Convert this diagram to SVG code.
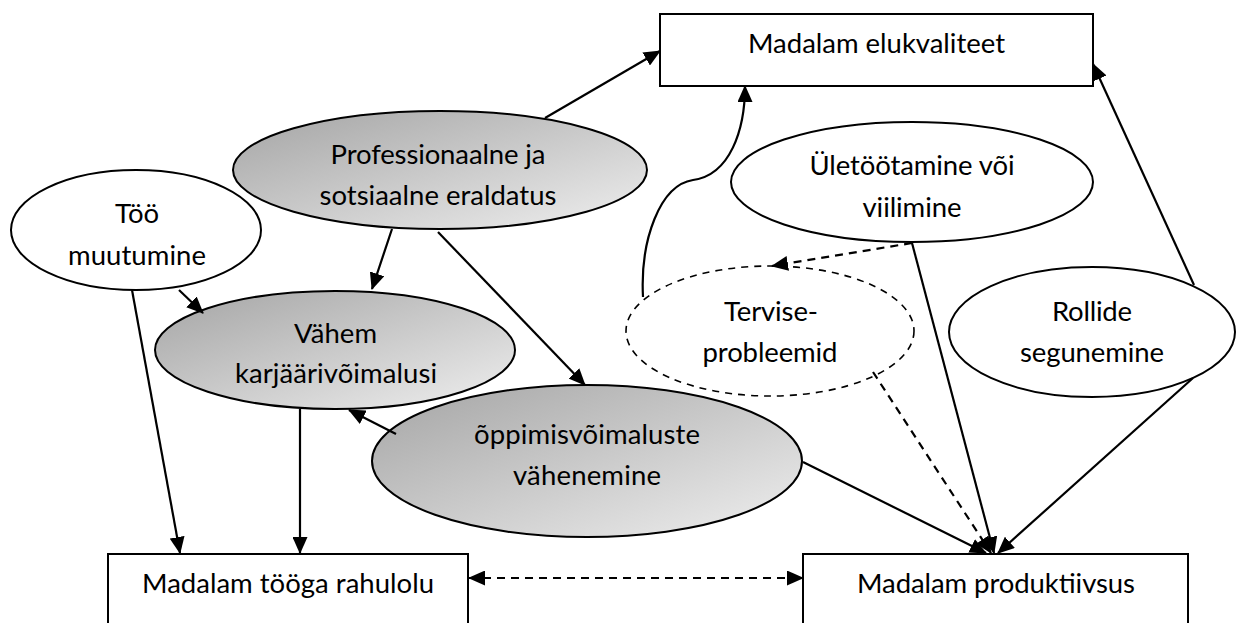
<svg xmlns="http://www.w3.org/2000/svg" width="1236" height="623" viewBox="0 0 1236 623">
  <style>
    .box { fill: #ffffff; stroke: #000000; stroke-width: 2; }
    .oval { fill: #ffffff; stroke: #000000; stroke-width: 2; }
    .shade { fill: url(#grayfill); stroke: #000000; stroke-width: 2; }
    .dashoval { fill: none; stroke: #000000; stroke-width: 1.6; stroke-dasharray: 7 6; }
    .lbl { font-family: Lato, "Liberation Sans", sans-serif; font-size: 27.5px; fill: #000000; text-anchor: middle; }
    .edge { fill: none; stroke: #000000; stroke-width: 2.2; marker-end: url(#head); }
    .dashed { stroke-dasharray: 8 6; }
  </style>
  <defs>
    <linearGradient id="grayfill" x1="0" y1="0" x2="1" y2="1">
      <stop offset="0" stop-color="#a4a4a4"/>
      <stop offset="1" stop-color="#efefef"/>
    </linearGradient>
    <marker id="head" markerUnits="userSpaceOnUse" markerWidth="17" markerHeight="15" refX="16" refY="7.5" orient="auto-start-reverse" viewBox="0 0 17 15">
      <path d="M0,0 L17,7.5 L0,15 Z" fill="#000000"/>
    </marker>
  </defs>

  <!-- rectangles -->
  <g id="elukvaliteet">
    <rect class="box" x="660" y="14" width="433" height="72"/>
    <text class="lbl" x="876.5" y="53" textLength="257" lengthAdjust="spacing">Madalam elukvaliteet</text>
  </g>
  <g id="rahulolu">
    <rect class="box" x="108" y="554" width="360" height="80"/>
    <text class="lbl" x="288" y="593" textLength="292" lengthAdjust="spacing">Madalam tööga rahulolu</text>
  </g>
  <g id="produktiivsus">
    <rect class="box" x="803" y="554" width="385" height="80"/>
    <text class="lbl" x="996" y="593" textLength="278" lengthAdjust="spacing">Madalam produktiivsus</text>
  </g>

  <!-- ellipses -->
  <g id="eraldatus">
    <ellipse class="shade" cx="440" cy="170" rx="207" ry="59"/>
    <text class="lbl" x="438" y="164" textLength="215" lengthAdjust="spacing">Professionaalne ja</text>
    <text class="lbl" x="438" y="205" textLength="237" lengthAdjust="spacing">sotsiaalne eraldatus</text>
  </g>
  <g id="muutumine">
    <ellipse class="oval" cx="136" cy="230" rx="125" ry="60"/>
    <text class="lbl" x="137" y="223" textLength="44" lengthAdjust="spacing">Töö</text>
    <text class="lbl" x="137" y="265" textLength="138" lengthAdjust="spacing">muutumine</text>
  </g>
  <g id="karjaar">
    <ellipse class="shade" cx="335" cy="350" rx="180" ry="59"/>
    <text class="lbl" x="335.5" y="343" textLength="83" lengthAdjust="spacing">Vähem</text>
    <text class="lbl" x="336" y="383" textLength="202" lengthAdjust="spacing">karjäärivõimalusi</text>
  </g>
  <g id="oppimine">
    <ellipse class="shade" cx="587" cy="461" rx="215" ry="76"/>
    <text class="lbl" x="587" y="444" textLength="226" lengthAdjust="spacing">õppimisvõimaluste</text>
    <text class="lbl" x="587" y="485" textLength="148" lengthAdjust="spacing">vähenemine</text>
  </g>
  <g id="ületöötamine">
    <ellipse class="oval" cx="912" cy="182" rx="181" ry="60"/>
    <text class="lbl" x="912" y="175" textLength="205" lengthAdjust="spacing">Ületöötamine või</text>
    <text class="lbl" x="912" y="217" textLength="99" lengthAdjust="spacing">viilimine</text>
  </g>
  <g id="tervis">
    <ellipse class="dashoval" cx="770" cy="331" rx="144" ry="65"/>
    <text class="lbl" x="771" y="321" textLength="94" lengthAdjust="spacing">Tervise-</text>
    <text class="lbl" x="770" y="362" textLength="135" lengthAdjust="spacing">probleemid</text>
  </g>
  <g id="rollid">
    <ellipse class="oval" cx="1092" cy="332" rx="143" ry="65"/>
    <text class="lbl" x="1092" y="321" textLength="80" lengthAdjust="spacing">Rollide</text>
    <text class="lbl" x="1092" y="362" textLength="144" lengthAdjust="spacing">segunemine</text>
  </g>

  <!-- connectors -->
  <g id="connectors">
    <line class="edge" x1="545" y1="118" x2="660" y2="51"/>
    <path class="edge" d="M643,297 C640,240 660,185 693,180 C730,175 745,130 745,86"/>
    <line class="edge" x1="1194" y1="285" x2="1093" y2="64"/>
    <line class="edge dashed" x1="912" y1="243" x2="772" y2="266"/>
    <line class="edge" x1="912" y1="243" x2="994" y2="553"/>
    <line class="edge" x1="1193" y1="378" x2="998" y2="553"/>
    <line class="edge dashed" x1="873" y1="372" x2="991" y2="553"/>
    <line class="edge" x1="803" y1="462" x2="986" y2="553"/>
    <line class="edge" x1="392" y1="229" x2="372" y2="289"/>
    <line class="edge" x1="438" y1="232" x2="585" y2="385"/>
    <line class="edge" x1="179" y1="290" x2="203" y2="313"/>
    <line class="edge" x1="132" y1="290" x2="180" y2="553"/>
    <line class="edge" x1="300" y1="409" x2="300" y2="553"/>
    <line class="edge" x1="396" y1="434" x2="349" y2="410"/>
    <line class="edge dashed" x1="469" y1="578" x2="803" y2="578" marker-start="url(#head)"/>
  </g>
</svg>
